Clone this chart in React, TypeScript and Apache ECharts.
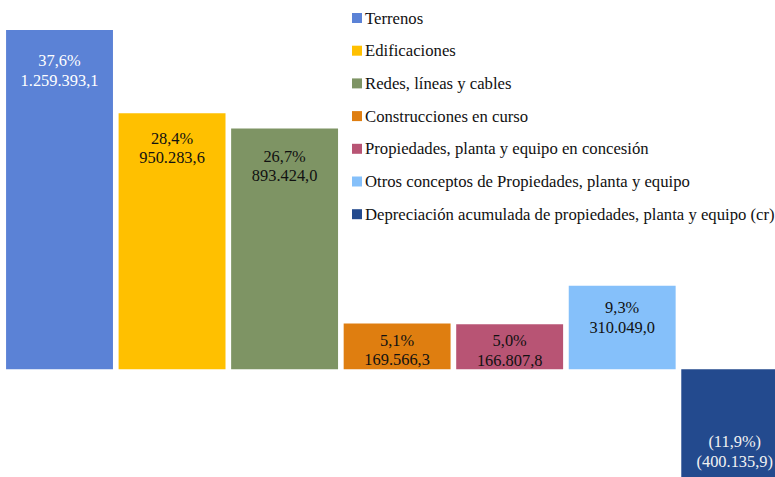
import React, { useEffect, useRef } from "react";
import * as echarts from "echarts";

const categories = [
  "Terrenos",
  "Edificaciones",
  "Redes, líneas y cables",
  "Construcciones en curso",
  "Propiedades, planta y equipo en concesión",
  "Otros conceptos de Propiedades, planta y equipo",
  "Depreciación acumulada de propiedades, planta y equipo (cr)",
];
const values = [1259393.1, 950283.6, 893424.0, 169566.3, 166807.8, 310049.0, -400135.9];
const percents = [37.6, 28.4, 26.7, 5.1, 5.0, 9.3, -11.9];

const colors = ["#5B82D6", "#FFC000", "#7E9464", "#DF7E10", "#B85474", "#85C0FA", "#234A8E"];
const labelColors = ["#ffffff", "#111111", "#111111", "#111111", "#111111", "#111111", "#f2f2f2"];
const labelDistances = [21, 15, 18, 7, 6.5, 12.5, 6];

function fmtNum(v: number): string {
  const abs = Math.abs(v);
  const [intPart, dec] = abs.toFixed(1).split(".");
  const withDots = intPart.replace(/\B(?=(\d{3})+(?!\d))/g, ".");
  const s = withDots + "," + dec;
  return v < 0 ? "(" + s + ")" : s;
}
function fmtPct(p: number): string {
  const s = Math.abs(p).toFixed(1).replace(".", ",") + "%";
  return p < 0 ? "(" + s + ")" : s;
}

export default function App() {
  const ref = useRef<HTMLDivElement>(null);
  useEffect(() => {
    if (!ref.current) return;
    const chart = echarts.init(ref.current, undefined, { renderer: "svg" });
    const font = "Liberation Serif";
    const series = categories.map((name, i) => ({
      name,
      type: "bar" as const,
      stack: "all",
      barCategoryGap: "5%",
      itemStyle: { color: colors[i] },
      label: {
        show: true,
        position: values[i] < 0 ? "insideBottom" : "insideTop",
        distance: labelDistances[i],
        color: labelColors[i],
        fontFamily: font,
        fontSize: 16.4,
        lineHeight: 19.5,
        formatter: () => fmtPct(percents[i]) + "\n" + fmtNum(values[i]),
      },
      data: categories.map((_, j) => (j === i ? values[i] : null)),
    }));
    chart.setOption({
      animation: false,
      textStyle: { fontFamily: font },
      grid: { left: 3.25, right: 0, top: 30, bottom: -1.7, containLabel: false },
      legend: {
        orient: "vertical",
        left: 352,
        top: 9.5,
        padding: 0,
        icon: "rect",
        itemWidth: 10,
        itemHeight: 10,
        itemGap: 15.7,
        selectedMode: false,
        textStyle: { fontFamily: font, fontSize: 16.7, lineHeight: 16, color: "#111", padding: [0, 0, 0, -2] },
        data: categories,
      },
      xAxis: {
        type: "category",
        data: categories,
        show: false,
      },
      yAxis: {
        type: "value",
        min: -400135.9,
        max: 1259393.1,
        show: false,
        splitLine: { show: false },
      },
      series,
    });
    return () => chart.dispose();
  }, []);
  return (
    <div
      style={{ position: "absolute", left: 0, top: 0, width: 775, height: 477, overflow: "hidden", background: "#fff" }}
    >
      <div ref={ref} style={{ width: 791, height: 477 }} />
    </div>
  );
}
